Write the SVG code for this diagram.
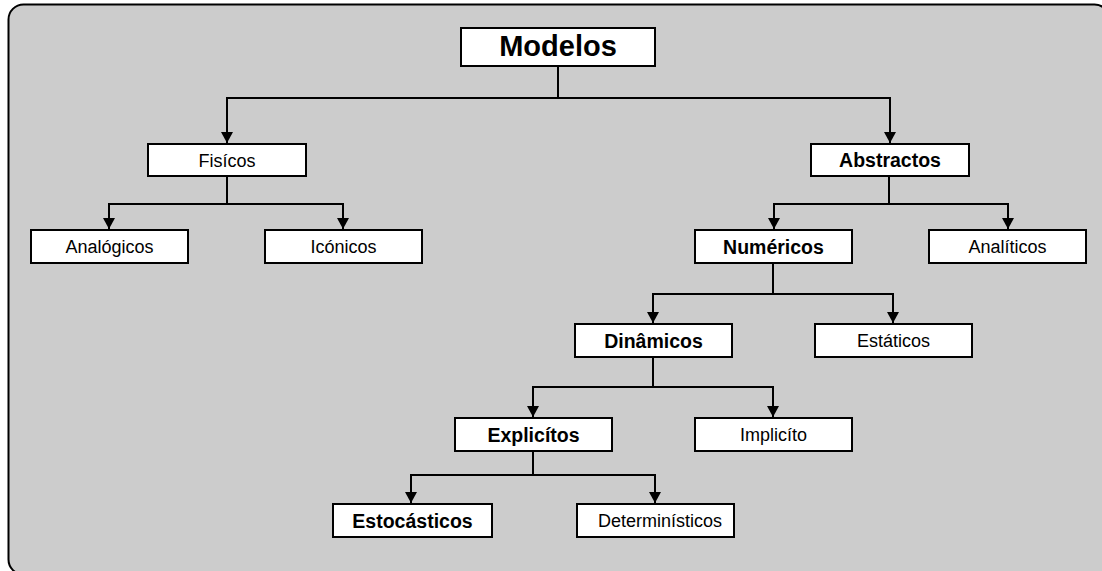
<svg xmlns="http://www.w3.org/2000/svg" width="1102" height="571" viewBox="0 0 1102 571">
  <defs>
    <marker id="arrow" markerUnits="userSpaceOnUse" markerWidth="12" markerHeight="12" viewBox="0 0 12 12" refX="11" refY="6" orient="auto">
      <path d="M0,0 L11,6 L0,12 z" fill="#000"/>
    </marker>
    <style>
      .frame { fill: #cccccc; stroke: #000; stroke-width: 2; }
      .box { fill: #fff; stroke: #000; stroke-width: 2; }
      .lbl { font-family: "Liberation Sans", Arial, sans-serif; font-size: 18px; text-anchor: middle; fill: #000; }
      .b { font-weight: bold; font-size: 19.5px; }
      .title { font-family: "Liberation Sans", Arial, sans-serif; font-weight: bold; font-size: 29px; text-anchor: middle; fill: #000; }
      .conn path { fill: none; stroke: #000; stroke-width: 2; marker-end: url(#arrow); }
    </style>
  </defs>

  <!-- background panel -->
  <rect class="frame" x="8.5" y="4.5" width="1101" height="570" rx="15" ry="15"/>

  <!-- connectors -->
  <g id="connectors" class="conn">
    <path d="M558,66 V98 H227 V143"/>
    <path d="M558,98 H890 V143"/>
    <path d="M227,176 V204 H109 V229"/>
    <path d="M227,204 H343 V229"/>
    <path d="M889,176 V204 H774 V229"/>
    <path d="M889,204 H1008 V229"/>
    <path d="M773,263 V294 H653 V323"/>
    <path d="M773,294 H893 V323"/>
    <path d="M653,357 V387 H533 V417"/>
    <path d="M653,387 H773 V417"/>
    <path d="M533,451 V475 H411 V503"/>
    <path d="M533,475 H655 V503"/>
  </g>

  <!-- nodes -->
  <g id="modelos">
    <rect class="box" x="461" y="28" width="194" height="38"/>
    <text class="title" x="558" y="55.5">Modelos</text>
  </g>
  <g id="fisicos">
    <rect class="box" x="148" y="144" width="158" height="32"/>
    <text class="lbl" x="227" y="166.5">Fisícos</text>
  </g>
  <g id="analogicos">
    <rect class="box" x="31" y="230" width="157" height="33"/>
    <text class="lbl" x="109.5" y="253">Analógicos</text>
  </g>
  <g id="iconicos">
    <rect class="box" x="265" y="230" width="157" height="33"/>
    <text class="lbl" x="343.5" y="253">Icónicos</text>
  </g>
  <g id="abstractos">
    <rect class="box" x="811" y="144" width="158" height="32"/>
    <text class="lbl b" x="890" y="167">Abstractos</text>
  </g>
  <g id="numericos">
    <rect class="box" x="695" y="230" width="157" height="33"/>
    <text class="lbl b" x="773.5" y="253.5">Numéricos</text>
  </g>
  <g id="analiticos">
    <rect class="box" x="929" y="230" width="157" height="33"/>
    <text class="lbl" x="1007.5" y="253">Analíticos</text>
  </g>
  <g id="dinamicos">
    <rect class="box" x="575" y="324" width="157" height="33"/>
    <text class="lbl b" x="653.5" y="347.5">Dinâmicos</text>
  </g>
  <g id="estaticos">
    <rect class="box" x="815" y="324" width="157" height="33"/>
    <text class="lbl" x="893.5" y="347">Estáticos</text>
  </g>
  <g id="explicitos">
    <rect class="box" x="455" y="418" width="157" height="33"/>
    <text class="lbl b" x="533.5" y="441.5">Explicítos</text>
  </g>
  <g id="implicito">
    <rect class="box" x="695" y="418" width="157" height="33"/>
    <text class="lbl" x="773.5" y="441">Implicíto</text>
  </g>
  <g id="estocasticos">
    <rect class="box" x="333" y="504" width="159" height="33"/>
    <text class="lbl b" x="412.5" y="527.5">Estocásticos</text>
  </g>
  <g id="deterministicos">
    <rect class="box" x="577" y="504" width="157" height="33"/>
    <text class="lbl" x="660" y="527">Determinísticos</text>
  </g>
</svg>
